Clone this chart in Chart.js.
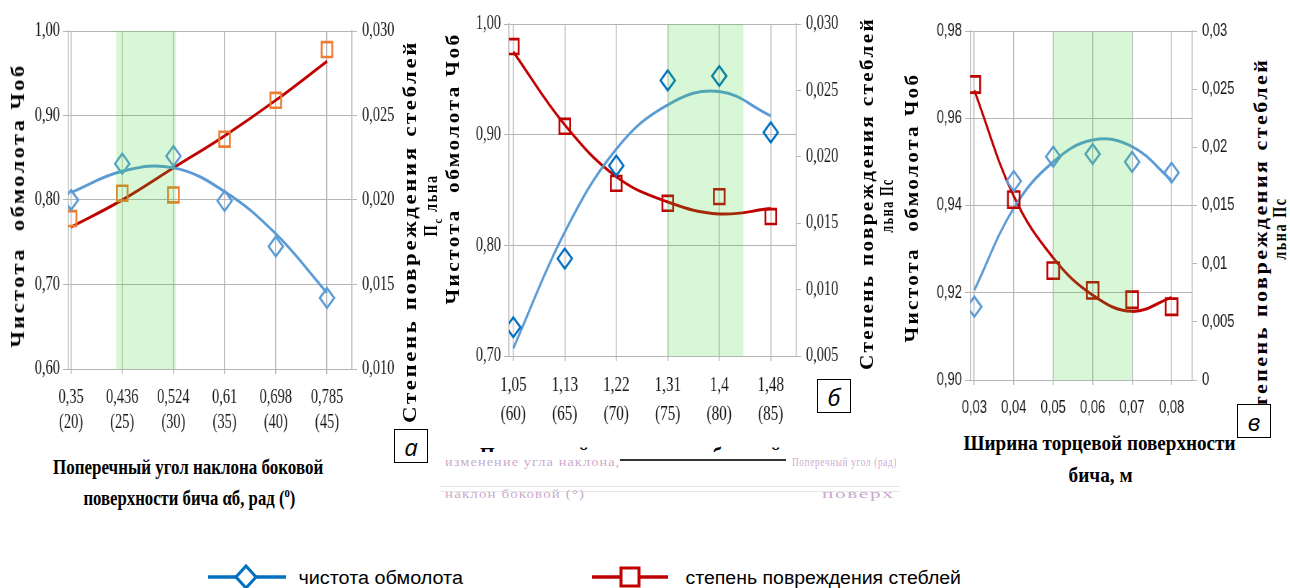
<!DOCTYPE html>
<html><head><meta charset="utf-8">
<script src="https://cdn.jsdelivr.net/npm/chart.js@4"></script>
<style>
html,body{margin:0;padding:0;background:#fff;width:1290px;height:588px;overflow:hidden;position:relative;}
.wrap{position:absolute;transform-origin:0 0;}
.t{position:absolute;white-space:nowrap;transform-origin:center center;color:#000;line-height:1;}
.box{position:absolute;border:1px solid #000;background:#fff;font:italic 24px 'Open Sans',sans-serif;display:flex;align-items:center;justify-content:center;box-sizing:border-box;}
</style></head><body>
<script>
// ---------- data ----------
// chart а
const catsA = ['0,35','0,436','0,524','0,61','0,698','0,785'];
const degA = ['(20)','(25)','(30)','(35)','(40)','(45)'];
const purityA = [0.800, 0.843, 0.852, 0.799, 0.745, 0.684];
const purityTrendA = [0.809, 0.834, 0.838, 0.810, 0.760, 0.690];
const damageA = [0.0189, 0.0204, 0.0203, 0.0236, 0.0259, 0.0289];
const damageTrendA = [0.0184, 0.0200, 0.0219, 0.0238, 0.0259, 0.0282];
// chart б
const catsB = ['1,05','1,13','1,22','1,31','1,4','1,48'];
const degB = ['(60)','(65)','(70)','(75)','(80)','(85)'];
const purityB = [0.726, 0.788, 0.872, 0.949, 0.953, 0.902];
const purityTrendB = [0.707, 0.812, 0.887, 0.927, 0.939, 0.917];
const damageB = [0.0283, 0.0223, 0.0180, 0.0165, 0.0170, 0.0155];
const damageTrendB = [0.0279, 0.0224, 0.0185, 0.0166, 0.0157, 0.0161];
// chart в
const catsC = ['0,03','0,04','0,05','0,06','0,07','0,08'];
const purityC = [0.9168, 0.9456, 0.9512, 0.9518, 0.9500, 0.9475];
const purityTrendC = [0.9206, 0.9394, 0.9500, 0.9550, 0.9535, 0.9458];
const damageC = [0.0254, 0.0155, 0.0094, 0.0077, 0.0069, 0.0063];
const damageTrendC = [0.0249, 0.0158, 0.0105, 0.0073, 0.0059, 0.0071];

// ---------- helpers ----------
const S = 0.72; // horizontal compression of the original picture

function pts(arr){ return arr.map((v,i)=>({x:i,y:v})); }

function placeText(html, cx, cy, rot, len, font, extra){
  const d = document.createElement('div');
  d.className = 't'; d.innerHTML = html; d.style.font = font;
  if (extra) Object.assign(d.style, extra);
  document.body.appendChild(d);
  const w = d.offsetWidth, h = d.offsetHeight;
  d.style.left = (cx - w/2) + 'px'; d.style.top = (cy - h/2) + 'px';
  d.style.transform = `rotate(${rot}deg) scaleX(${len/w})`;
  return d;
}

const bandPlugin = {
  id: 'band',
  afterDatasetsDraw(chart, args, opts){
    const {ctx, chartArea:{top,bottom}, scales:{x}} = chart;
    const x0 = x.getPixelForValue(opts.from), x1 = x.getPixelForValue(opts.to);
    ctx.save();
    ctx.fillStyle = 'rgba(40,215,40,0.19)';
    ctx.fillRect(x0, top + (opts.topGap||0), x1 - x0, bottom - top - (opts.topGap||0));
    ctx.restore();
  }
};

function makeChart(c){
  const wrap = document.createElement('div');
  wrap.className = 'wrap';
  Object.assign(wrap.style, {left: c.box.left+'px', top: c.box.top+'px',
    width: (c.box.w / S)+'px', height: c.box.h+'px', transform: `scaleX(${S})`});
  const cv = document.createElement('canvas');
  wrap.appendChild(cv);
  document.body.appendChild(wrap);
  const gridCol = '#b4b4b4';
  const tickFont = {family: c.tickFamily, size: c.tickSize};
  new Chart(cv, {
    type: 'line',
    data: {datasets: [
      {data: pts(c.purity), yAxisID:'y', showLine:false, pointStyle:'rectRot', pointRadius:10, pointHoverRadius:10,
       pointBorderColor:c.blueMark, pointBackgroundColor:'rgba(0,0,0,0)', pointBorderWidth:2.6},
      {data: pts(c.damage), yAxisID:'y2', showLine:false, pointStyle:'rect', pointRadius:c.sqR, pointHoverRadius:c.sqR,
       pointBorderColor:c.redMark, pointBackgroundColor:'rgba(0,0,0,0)', pointBorderWidth:2.6},
      {data: pts(c.purityTrend), yAxisID:'y', borderColor:'#5b9bd5', borderWidth:3, pointRadius:0, tension:0.4, fill:false},
      {data: pts(c.damageTrend), yAxisID:'y2', borderColor:'#c00000', borderWidth:3, pointRadius:0, tension:0.4, fill:false}
    ]},
    options: {
      responsive:true, maintainAspectRatio:false, animation:false,
      events: [],
      layout: {padding:{top: c.plot.t - c.box.top, left:0, right:0, bottom:0}},
      plugins: {legend:{display:false}, tooltip:{enabled:false}, band: c.band},
      scales: {
        x: {type:'linear', min:c.xmin, max:c.xmax,
            afterBuildTicks: s => { s.ticks = [0,1,2,3,4,5].map(v=>({value:v})); },
            afterFit: s => { s.height = c.box.top + c.box.h - c.plot.b; },
            grid:{color:gridCol, lineWidth:1.4, tickLength:5},
            border:{color:gridCol, width:1},
            ticks:{autoSkip:false, maxRotation:0, padding:c.xPad, color:'#1a1a1a',
                   font:{family:c.tickFamily, size:c.xSize, lineHeight:c.xLH},
                   callback: v => c.xLabels(v)}},
        y: {position:'left', min:c.yMin, max:c.yMax,
            afterBuildTicks: s => { s.ticks = c.yTicks.map(v=>({value:v})); },
            afterFit: s => { s.width = (c.plot.l - c.box.left) / S; },
            grid:{color:gridCol, lineWidth:1, tickLength:5/S},
            border:{color:gridCol, width:1.4},
            ticks:{padding:3/S, color:'#1a1a1a', font:tickFont, callback: v => c.yFmt(v)}},
        y2: {position:'right', min:c.y2Min, max:c.y2Max,
            afterBuildTicks: s => { s.ticks = c.y2Ticks.map(v=>({value:v})); },
            afterFit: s => { s.width = (c.box.left + c.box.w - c.plot.r) / S; },
            grid:{drawOnChartArea:false, color:gridCol, tickLength:5/S},
            border:{color:gridCol, width:1.4},
            ticks:{padding:5/S, color:'#1a1a1a', font:tickFont, callback: v => c.y2Fmt(v)}}
      }
    },
    plugins: [bandPlugin]
  });
}

const f2 = v => v.toFixed(2).replace('.', ',');
const f3 = v => v.toFixed(3).replace('.', ',');
const fTrim = v => (Math.abs(v) < 1e-9 ? '0' : String(parseFloat(v.toFixed(3))).replace('.', ','));

// chart а
makeChart({
  box:{left:0, top:0, w:430, h:445}, plot:{l:68, r:352, t:31, b:369},
  xmin:-0.059, xmax:5.488,
  purity:purityA, purityTrend:purityTrendA, damage:damageA, damageTrend:damageTrendA,
  blueMark:'#5b9bd5', redMark:'#ed7d31', sqR:10.5,
  band:{from:0.88, to:2.05},
  tickFamily:'Liberation Serif', tickSize:20, xSize:20, xLH:1.25, xPad:11.5,
  xLabels: v => [catsA[v], degA[v]],
  yMin:0.6, yMax:1.0, yTicks:[0.6,0.7,0.8,0.9,1.0], yFmt:f2,
  y2Min:0.010, y2Max:0.030, y2Ticks:[0.010,0.015,0.020,0.025,0.030], y2Fmt:f3
});
// chart б
makeChart({
  box:{left:440, top:0, w:420, h:440}, plot:{l:509, r:796, t:24, b:356},
  xmin:-0.083, xmax:5.49,
  purity:purityB, purityTrend:purityTrendB, damage:damageB, damageTrend:damageTrendB,
  blueMark:'#0070c0', redMark:'#c00000', sqR:10.5,
  band:{from:3.0, to:4.47},
  tickFamily:'Liberation Serif', tickSize:20, xSize:21, xLH:1.35, xPad:10.5,
  xLabels: v => [catsB[v], degB[v]],
  yMin:0.7, yMax:1.0, yTicks:[0.7,0.8,0.9,1.0], yFmt:f2,
  y2Min:0.005, y2Max:0.030, y2Ticks:[0.005,0.010,0.015,0.020,0.025,0.030], y2Fmt:f3
});
// chart в
makeChart({
  box:{left:900, top:0, w:350, h:430}, plot:{l:970, r:1192, t:31, b:380},
  xmin:-0.109, xmax:5.518,
  purity:purityC, purityTrend:purityTrendC, damage:damageC, damageTrend:damageTrendC,
  blueMark:'#5b9bd5', redMark:'#c00000', sqR:11.5,
  band:{from:2.0, to:4.0, topGap:1},
  tickFamily:'Liberation Sans', tickSize:18, xSize:18, xLH:1.2, xPad:12.5,
  xLabels: v => catsC[v],
  yMin:0.90, yMax:0.98, yTicks:[0.90,0.92,0.94,0.96,0.98], yFmt:f2,
  y2Min:0, y2Max:0.03, y2Ticks:[0,0.005,0.01,0.015,0.02,0.025,0.03], y2Fmt:fTrim
});

// ---------- axis titles ----------
const TB = "bold 18px 'Liberation Serif'";
const LS = {letterSpacing:'2px'};
// а
placeText('Чистота&nbsp; обмолота Чоб', 18, 205, -90, 284, TB, LS);
placeText('Степень повреждения стеблей', 411, 231, -90, 383, TB, LS);
placeText('П<sub style="font-size:13px">с</sub> льна', 433, 205, -90, 62, TB, LS);
placeText('Поперечный угол наклона боковой', 188, 467, 0, 270, "bold 22px 'Liberation Serif'");
placeText('поверхности бича αб, рад (<sup style="font-size:14px">о</sup>)', 189, 498, 0, 212, "bold 22px 'Liberation Serif'");
// б
placeText('Чистота&nbsp; обмолота Чоб', 453, 168, -90, 272, TB, LS);
placeText('Степень повреждения стеблей', 868, 193, -90, 353, TB, LS);
placeText('льна Пс', 887, 205, -90, 54, TB, LS);
// в
placeText('Чистота&nbsp; обмолота Чоб', 912, 207, -90, 270, TB, LS);
placeText('Степень повреждения стеблей', 1262, 241, -90, 368, TB, LS);
placeText('льна Пс', 1280, 228, -90, 62, TB, LS);
placeText('Ширина торцевой поверхности', 1099, 443, 0, 272, "bold 22px 'Liberation Serif'");
placeText('бича, м', 1100, 475, 0, 64, "bold 22px 'Liberation Serif'");

// garbled remains of the middle x-axis title
(function(){
  const clip = document.createElement('div');
  Object.assign(clip.style, {position:'absolute', left:'480px', top:'444px', width:'320px', height:'8px', overflow:'hidden'});
  const inner = document.createElement('div');
  Object.assign(inner.style, {font:"bold 22px 'Liberation Serif'", whiteSpace:'nowrap', transformOrigin:'0 0', transform:'scaleX(0.86)', lineHeight:'1'});
  inner.textContent = 'Поперечный угол наклона боковой';
  clip.appendChild(inner); document.body.appendChild(clip);
  const ln = document.createElement('div');
  Object.assign(ln.style, {position:'absolute', left:'620px', top:'459px', width:'166px', height:'2px', background:'#333'});
  document.body.appendChild(ln);
  [[440,486],[440,491]].forEach(([x,y])=>{
    const g = document.createElement('div');
    Object.assign(g.style, {position:'absolute', left:x+'px', top:y+'px', width:'460px', height:'1px', background:'#e6e6e6'});
    document.body.appendChild(g);
  });
  const junk = [['изменение угла наклона,', 445, 454, 175],['Поперечный угол (рад)', 792, 454, 105],['наклон боковой (°)', 445, 486, 140],['поверх', 822, 486, 72]];
  junk.forEach(([t,x,y,w])=>{
    const d = document.createElement('div');
    Object.assign(d.style, {position:'absolute', left:x+'px', top:y+'px', font:"13px 'Liberation Serif'", color:'rgba(150,90,160,0.55)', whiteSpace:'nowrap', letterSpacing:'1px'});
    d.textContent = t; document.body.appendChild(d);
    const k = w / d.offsetWidth; d.style.transformOrigin='0 0'; d.style.transform = `scaleX(${k})`;
  });
})();

// ---------- boxed panel letters ----------
[['а',394,429],['б',817,379],['в',1237,404]].forEach(([t,x,y])=>{
  const b = document.createElement('div'); b.className='box';
  Object.assign(b.style, {left:x+'px', top:y+'px', width:'34px', height:'34px'});
  b.textContent = t; document.body.appendChild(b);
});

// ---------- legend ----------
(function(){
  const ns = 'http://www.w3.org/2000/svg';
  const svg = document.createElementNS(ns, 'svg');
  svg.setAttribute('width', 1290); svg.setAttribute('height', 50);
  Object.assign(svg.style, {position:'absolute', left:'0px', top:'540px'});
  svg.innerHTML =
    '<line x1="208" y1="37" x2="286" y2="37" stroke="#0070c0" stroke-width="3.5"/>' +
    '<polygon points="246,26 256,37 246,48 236,37" fill="#fff" stroke="#0070c0" stroke-width="3"/>' +
    '<line x1="592" y1="37" x2="668" y2="37" stroke="#c00000" stroke-width="3.5"/>' +
    '<rect x="621" y="28" width="18" height="18" fill="#fff" stroke="#c00000" stroke-width="3"/>';
  document.body.appendChild(svg);
  placeText('чистота обмолота', 380, 578, 0, 164, "18px 'Liberation Sans'");
  placeText('степень повреждения стеблей', 823, 578, 0, 276, "18px 'Liberation Sans'");
})();
</script>
</body></html>
